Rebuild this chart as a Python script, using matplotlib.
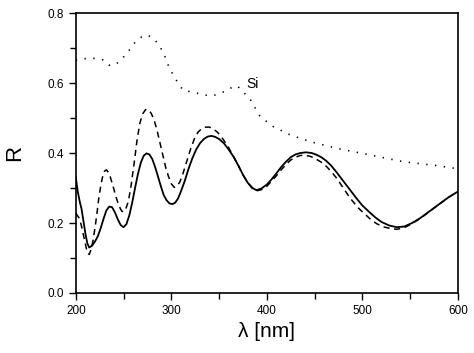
import matplotlib
matplotlib.use("Agg")
import matplotlib.pyplot as plt
from matplotlib.ticker import MultipleLocator

plt.rcParams['font.family'] = ['Liberation Sans', 'DejaVu Sans']

# solid curve
wl_solid = [200, 202, 204, 206, 208, 210, 212, 214, 217, 220, 223, 226, 229, 232,
            235, 238, 241, 244, 247, 250, 253, 256, 259, 262, 265, 268, 271, 274,
            277, 280, 283, 286, 289, 292, 295, 298, 301, 304, 307, 310, 314, 318,
            322, 326, 330, 334, 338, 342, 346, 350, 355, 360, 365, 370, 375, 380,
            385, 389, 394, 400, 405, 410, 415, 420, 425, 430, 435, 441, 447, 452,
            457, 462, 467, 473, 480, 487, 494, 500, 507, 514, 520, 528, 536, 544,
            552, 560, 570, 580, 590, 600]
r_solid = [0.33, 0.29, 0.262, 0.24, 0.205, 0.17, 0.142, 0.13, 0.135, 0.147, 0.162,
           0.185, 0.212, 0.236, 0.247, 0.245, 0.23, 0.21, 0.194, 0.188, 0.197,
           0.222, 0.258, 0.30, 0.34, 0.372, 0.392, 0.399, 0.396, 0.383, 0.36,
           0.333, 0.305, 0.28, 0.265, 0.256, 0.254, 0.258, 0.27, 0.29, 0.32,
           0.355, 0.385, 0.41, 0.428, 0.44, 0.447, 0.449, 0.446, 0.44, 0.428,
           0.41, 0.39, 0.365, 0.338, 0.315, 0.30, 0.294, 0.298, 0.31, 0.325,
           0.342, 0.36, 0.375, 0.388, 0.396, 0.40, 0.402, 0.40, 0.395, 0.388,
           0.378, 0.365, 0.345, 0.32, 0.295, 0.27, 0.25, 0.232, 0.215, 0.203,
           0.193, 0.188, 0.19, 0.20, 0.213, 0.233, 0.253, 0.273, 0.29]

# dashed curve
wl_dash = [200, 202, 204, 206, 208, 210, 212, 214, 216, 218, 220, 222, 224, 226,
           228, 230, 232, 234, 236, 239, 242, 245, 248, 250, 252, 255, 258, 261,
           264, 267, 270, 273, 276, 279, 282, 285, 288, 291, 294, 297, 300, 303,
           306, 309, 312, 316, 320, 324, 328, 332, 336, 340, 344, 348, 352, 356,
           360, 365, 370, 375, 380, 385, 389, 394, 400, 405, 410, 415, 420, 425,
           430, 435, 440, 446, 452, 458, 463, 468, 474, 480, 487, 494, 500, 508,
           515, 522, 530, 536, 543, 550, 560, 570, 580, 590, 600]
r_dash = [0.228, 0.22, 0.212, 0.19, 0.165, 0.14, 0.115, 0.11, 0.125, 0.15, 0.185,
          0.225, 0.27, 0.305, 0.332, 0.348, 0.352, 0.345, 0.332, 0.305, 0.275,
          0.25, 0.234, 0.232, 0.238, 0.262, 0.31, 0.37, 0.435, 0.485, 0.512,
          0.524, 0.524, 0.513, 0.494, 0.465, 0.43, 0.395, 0.36, 0.333, 0.312,
          0.302, 0.305, 0.318, 0.34, 0.375, 0.41, 0.44, 0.46, 0.47, 0.474, 0.474,
          0.469, 0.46, 0.448, 0.432, 0.415, 0.39, 0.365, 0.337, 0.315, 0.298,
          0.292, 0.295, 0.305, 0.32, 0.335, 0.352, 0.367, 0.38, 0.388, 0.393,
          0.394, 0.39, 0.382, 0.372, 0.36, 0.345, 0.325, 0.30, 0.272, 0.248,
          0.232, 0.212, 0.198, 0.189, 0.184, 0.182, 0.186, 0.195, 0.212, 0.232,
          0.253, 0.273, 0.29]

# Si (dotted)
wl_si = [200, 205, 218, 229, 235, 241, 247, 254, 258, 263, 269, 275, 281, 287,
         293, 298, 305, 312, 325, 337, 344, 356, 365, 369, 375, 382, 393, 407,
         425, 446, 474, 509, 543, 578, 600]
r_si = [0.665, 0.669, 0.671, 0.666, 0.651, 0.651, 0.666, 0.686, 0.702, 0.72,
        0.732, 0.737, 0.728, 0.71, 0.678, 0.642, 0.609, 0.58, 0.572, 0.565,
        0.564, 0.576, 0.59, 0.592, 0.575, 0.556, 0.504, 0.475, 0.451, 0.432,
        0.413, 0.394, 0.375, 0.364, 0.355]

fig = plt.figure(figsize=(4.74, 3.53), dpi=100)
ax = fig.add_axes([0.160, 0.170, 0.806, 0.793])

ax.plot(wl_solid, r_solid, color='black', lw=1.3)
ax.plot(wl_dash, r_dash, color='black', lw=1.1, linestyle=(0, (4, 3)))
ax.plot(wl_si, r_si, color='black', lw=1.2, linestyle=(0, (0.8, 4.5)))
ax.text(378, 0.597, 'Si', fontsize=10, va='center', ha='left')

ax.set_xlim(200, 600)
ax.set_ylim(0.0, 0.8)
ax.xaxis.set_major_locator(MultipleLocator(100))
ax.xaxis.set_minor_locator(MultipleLocator(50))
ax.yaxis.set_major_locator(MultipleLocator(0.2))
ax.yaxis.set_minor_locator(MultipleLocator(0.1))
ax.yaxis.set_major_formatter(plt.FormatStrFormatter('%.1f'))
ax.tick_params(which='both', direction='out', top=False, right=False,
               width=1.0, labelsize=8.5)
ax.tick_params(which='major', length=5)
ax.tick_params(which='minor', length=4)
for s in ax.spines.values():
    s.set_linewidth(1.2)

ax.set_xlabel('λ [nm]', fontsize=15)
ax.set_ylabel('R', fontsize=16, labelpad=16)

fig.savefig('out.png', dpi=100)
